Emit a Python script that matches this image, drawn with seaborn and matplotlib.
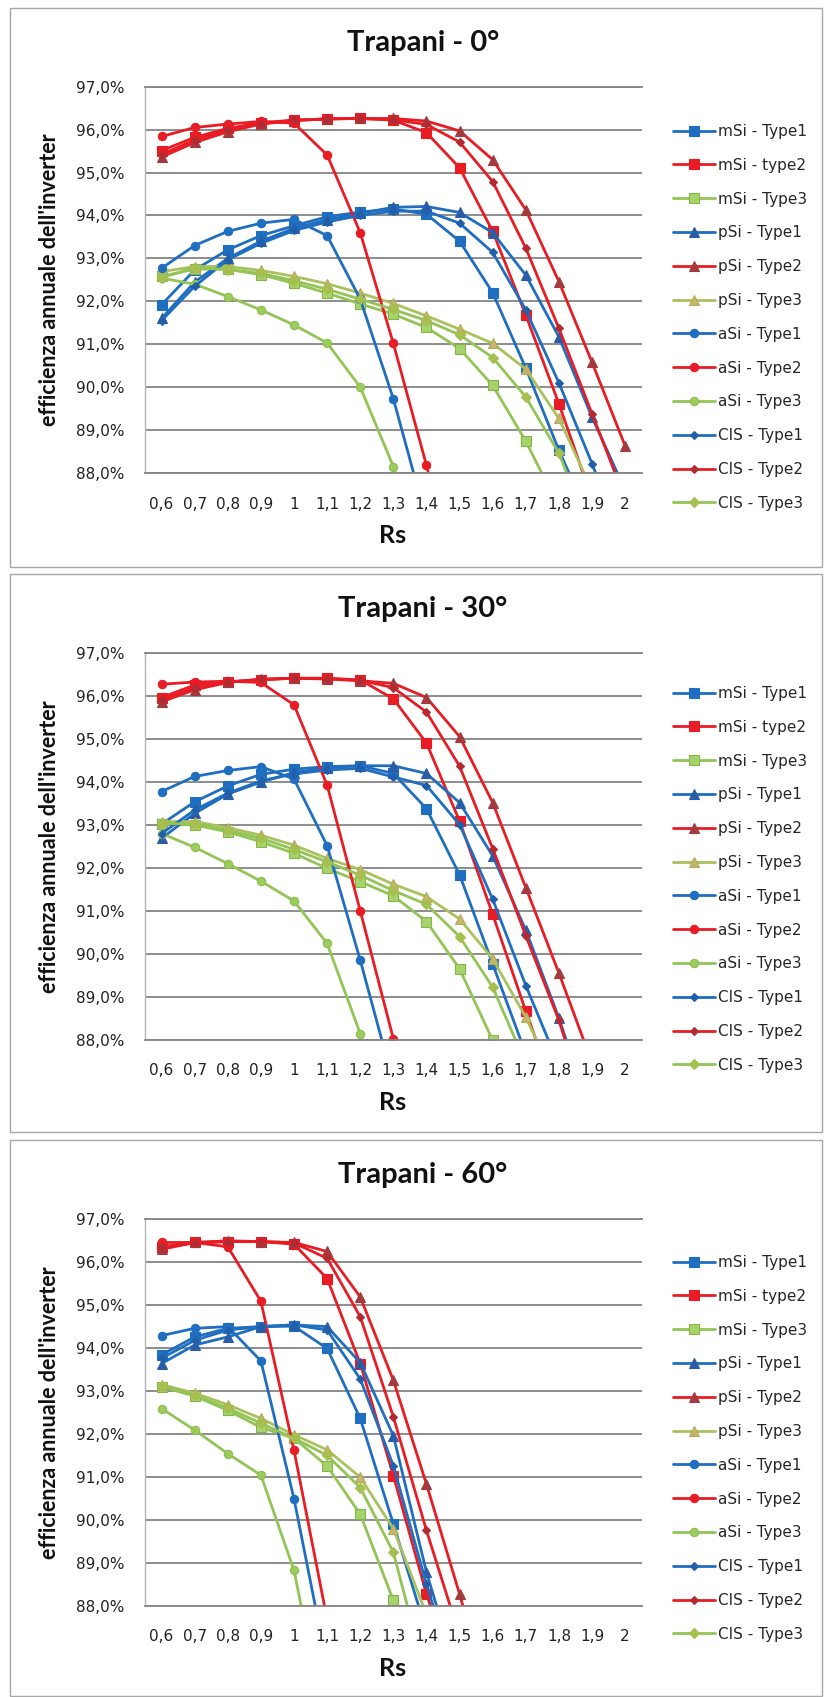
import numpy as np
import seaborn as sns
import matplotlib
matplotlib.use("Agg")
import matplotlib.pyplot as plt
from matplotlib.patches import Rectangle
from matplotlib.ticker import FuncFormatter

nan = np.nan

rs_labels = ["0,6", "0,7", "0,8", "0,9", "1", "1,1", "1,2", "1,3", "1,4", "1,5",
             "1,6", "1,7", "1,8", "1,9", "2"]
panel_titles = ["Trapani - 0°", "Trapani - 30°", "Trapani - 60°"]
series_names = ["mSi - Type1", "mSi - type2", "mSi - Type3",
                "pSi - Type1", "pSi - Type2", "pSi - Type3",
                "aSi - Type1", "aSi - Type2", "aSi - Type3",
                "CIS - Type1", "CIS - Type2", "CIS - Type3"]
y_ticks = [88, 89, 90, 91, 92, 93, 94, 95, 96, 97]

# ---- Trapani 0° ----
t0_mSi_1 = [91.92, 92.73, 93.20, 93.53, 93.76, 93.97, 94.08, 94.15, 94.03, 93.40, 92.20, 90.44, 88.53, 86.8, nan]
t0_mSi_2 = [95.51, 95.82, 96.03, 96.16, 96.22, 96.25, 96.26, 96.22, 95.93, 95.11, 93.63, 91.68, 89.61, 87.4, nan]
t0_mSi_3 = [92.58, 92.75, 92.75, 92.62, 92.42, 92.19, 91.94, 91.70, 91.39, 90.90, 90.04, 88.74, 87.2, nan, nan]
t0_pSi_1 = [91.60, 92.45, 93.00, 93.40, 93.70, 93.90, 94.05, 94.19, 94.21, 94.07, 93.60, 92.61, 91.17, 89.30, 87.6]
t0_pSi_2 = [95.36, 95.70, 95.95, 96.13, 96.21, 96.25, 96.26, 96.26, 96.20, 95.97, 95.30, 94.13, 92.46, 90.58, 88.63]
t0_pSi_3 = [92.69, 92.81, 92.81, 92.72, 92.58, 92.41, 92.19, 91.95, 91.66, 91.35, 91.02, 90.42, 89.27, 87.6, nan]
t0_aSi_1 = [92.77, 93.30, 93.63, 93.82, 93.91, 93.53, 92.05, 89.73, 86.9, nan, nan, nan, nan, nan, nan]
t0_aSi_2 = [95.84, 96.05, 96.13, 96.19, 96.15, 95.41, 93.60, 91.02, 88.18, 85.0, nan, nan, nan, nan, nan]
t0_aSi_3 = [92.54, 92.40, 92.11, 91.80, 91.45, 91.03, 90.00, 88.15, 85.5, nan, nan, nan, nan, nan, nan]
t0_CIS_1 = [91.55, 92.35, 92.97, 93.35, 93.65, 93.85, 94.00, 94.10, 94.10, 93.82, 93.14, 91.80, 90.10, 88.22, 86.2]
t0_CIS_2 = [95.42, 95.76, 96.00, 96.14, 96.22, 96.25, 96.26, 96.23, 96.12, 95.71, 94.79, 93.24, 91.37, 89.38, 87.4]
t0_CIS_3 = [92.55, 92.78, 92.74, 92.65, 92.48, 92.28, 92.05, 91.81, 91.55, 91.22, 90.69, 89.77, 88.46, 86.5, nan]

# ---- Trapani 30° ----
t30_mSi_1 = [93.02, 93.54, 93.91, 94.18, 94.30, 94.36, 94.38, 94.20, 93.38, 91.84, 89.76, 87.67, nan, nan, nan]
t30_mSi_2 = [95.97, 96.26, 96.34, 96.38, 96.42, 96.42, 96.38, 95.94, 94.91, 93.09, 90.92, 88.66, 86.5, nan, nan]
t30_mSi_3 = [93.02, 93.00, 92.84, 92.61, 92.34, 91.99, 91.68, 91.35, 90.75, 89.65, 87.98, 85.8, nan, nan, nan]
t30_pSi_1 = [92.69, 93.27, 93.72, 94.00, 94.22, 94.33, 94.38, 94.38, 94.20, 93.52, 92.28, 90.55, 88.50, 86.2, nan]
t30_pSi_2 = [95.87, 96.15, 96.32, 96.40, 96.42, 96.40, 96.36, 96.30, 95.97, 95.06, 93.52, 91.54, 89.55, 87.46, nan]
t30_pSi_3 = [93.08, 93.08, 92.94, 92.76, 92.53, 92.22, 91.96, 91.62, 91.33, 90.81, 89.88, 88.52, 86.9, nan, nan]
t30_aSi_1 = [93.78, 94.13, 94.27, 94.36, 94.07, 92.52, 89.85, 87.0, nan, nan, nan, nan, nan, nan, nan]
t30_aSi_2 = [96.28, 96.33, 96.35, 96.32, 95.80, 93.93, 91.00, 88.02, 85.0, nan, nan, nan, nan, nan, nan]
t30_aSi_3 = [92.80, 92.48, 92.10, 91.69, 91.23, 90.24, 88.14, 85.5, nan, nan, nan, nan, nan, nan, nan]
t30_CIS_1 = [92.80, 93.35, 93.74, 94.03, 94.19, 94.28, 94.32, 94.12, 93.92, 93.01, 91.27, 89.26, 87.4, nan, nan]
t30_CIS_2 = [95.92, 96.20, 96.33, 96.39, 96.42, 96.41, 96.37, 96.20, 95.63, 94.37, 92.45, 90.42, 88.45, 86.0, nan]
t30_CIS_3 = [93.04, 93.02, 92.88, 92.69, 92.43, 92.14, 91.83, 91.47, 91.15, 90.40, 89.22, 87.44, nan, nan, nan]

# ---- Trapani 60° ----
t60_mSi_1 = [93.84, 94.26, 94.46, 94.50, 94.51, 93.99, 92.36, 89.90, 87.4, nan, nan, nan, nan, nan, nan]
t60_mSi_2 = [96.36, 96.46, 96.48, 96.48, 96.42, 95.62, 93.64, 91.03, 88.27, 86.0, nan, nan, nan, nan, nan]
t60_mSi_3 = [93.10, 92.88, 92.55, 92.15, 91.90, 91.25, 90.13, 88.12, 86.0, nan, nan, nan, nan, nan, nan]
t60_pSi_1 = [93.64, 94.07, 94.26, 94.50, 94.54, 94.50, 93.66, 91.96, 88.78, 86.2, nan, nan, nan, nan, nan]
t60_pSi_2 = [96.30, 96.46, 96.50, 96.48, 96.46, 96.25, 95.19, 93.25, 90.83, 88.27, 85.5, nan, nan, nan, nan]
t60_pSi_3 = [93.15, 92.95, 92.68, 92.36, 91.98, 91.63, 90.99, 89.79, 87.8, nan, nan, nan, nan, nan, nan]
t60_aSi_1 = [94.29, 94.46, 94.50, 93.70, 90.49, 86.6, nan, nan, nan, nan, nan, nan, nan, nan, nan]
t60_aSi_2 = [96.46, 96.46, 96.36, 95.09, 91.62, 87.68, nan, nan, nan, nan, nan, nan, nan, nan, nan]
t60_aSi_3 = [92.59, 92.09, 91.54, 91.04, 88.82, 85.0, nan, nan, nan, nan, nan, nan, nan, nan, nan]
t60_CIS_1 = [93.76, 94.18, 94.42, 94.50, 94.54, 94.42, 93.28, 91.26, 88.5, 86.0, nan, nan, nan, nan, nan]
t60_CIS_2 = [96.35, 96.45, 96.48, 96.48, 96.45, 96.09, 94.73, 92.40, 89.75, 87.3, nan, nan, nan, nan, nan]
t60_CIS_3 = [93.12, 92.90, 92.60, 92.25, 91.90, 91.50, 90.75, 89.24, 86.3, nan, nan, nan, nan, nan, nan]

panels = [
    [t0_mSi_1, t0_mSi_2, t0_mSi_3, t0_pSi_1, t0_pSi_2, t0_pSi_3,
     t0_aSi_1, t0_aSi_2, t0_aSi_3, t0_CIS_1, t0_CIS_2, t0_CIS_3],
    [t30_mSi_1, t30_mSi_2, t30_mSi_3, t30_pSi_1, t30_pSi_2, t30_pSi_3,
     t30_aSi_1, t30_aSi_2, t30_aSi_3, t30_CIS_1, t30_CIS_2, t30_CIS_3],
    [t60_mSi_1, t60_mSi_2, t60_mSi_3, t60_pSi_1, t60_pSi_2, t60_pSi_3,
     t60_aSi_1, t60_aSi_2, t60_aSi_3, t60_CIS_1, t60_CIS_2, t60_CIS_3],
]

# ---- styles ----
BLUE = "#1F6EC0"
RED = "#E81C24"
GREEN = "#93C456"
styles = [
    dict(color=BLUE, marker="s", ms=6.5, mfc=BLUE, mec=BLUE),
    dict(color=RED, marker="s", ms=6.5, mfc=RED, mec=RED),
    dict(color=GREEN, marker="s", ms=6.5, mfc="#A6D46C", mec="#86B447"),
    dict(color=BLUE, marker="^", ms=6.5, mfc="#2A5DA6", mec="#2A5DA6"),
    dict(color=RED, marker="^", ms=6.5, mfc="#A23A3E", mec="#A23A3E"),
    dict(color="#A9C25E", marker="^", ms=6.5, mfc="#C4B76A", mec="#B3AA5C"),
    dict(color=BLUE, marker="o", ms=6.0, mfc=BLUE, mec=BLUE),
    dict(color=RED, marker="o", ms=6.0, mfc=RED, mec=RED),
    dict(color=GREEN, marker="o", ms=6.0, mfc="#9DCC5E", mec="#8DBE4E"),
    dict(color=BLUE, marker="D", ms=4.2, mfc="#215FAA", mec="#215FAA"),
    dict(color=RED, marker="D", ms=4.2, mfc="#B12B33", mec="#B12B33"),
    dict(color=GREEN, marker="D", ms=4.8, mfc="#A6BF4E", mec="#A6BF4E"),
]

sns.set_theme(style="white")
plt.rcParams["font.family"] = ["DejaVu Sans"]

W, H = 826, 1697
fig = plt.figure(figsize=(W / 100, H / 100), dpi=100)

ax_tops = [86.7, 653.3, 1219.3]
ax_h = 386.3
ax_left, ax_right = 145, 641.7
box_tops = [8, 574, 1140]
box_bots = [567, 1132, 1696]
legend_tops = [124, 686, 1255]

x_idx = np.arange(len(rs_labels))
pct_fmt = FuncFormatter(lambda v, _: f"{v:.1f}%".replace(".", ","))

for p, (series_list, title) in enumerate(zip(panels, panel_titles)):
    # chart border
    fig.patches.append(Rectangle((10 / W, 1 - box_bots[p] / H), (822 - 10) / W,
                                 (box_bots[p] - box_tops[p]) / H,
                                 transform=fig.transFigure, fill=False,
                                 edgecolor="#A8A8A8", lw=1.0))
    top = ax_tops[p]
    ax = fig.add_axes([ax_left / W, 1 - (top + ax_h) / H, (ax_right - ax_left) / W, ax_h / H])
    for vals, name, st in zip(series_list, series_names, styles):
        sns.lineplot(x=x_idx, y=np.array(vals, dtype=float), ax=ax, color=st["color"],
                     lw=2.0, marker=st["marker"], markersize=st["ms"],
                     markerfacecolor=st["mfc"], markeredgecolor=st["mec"],
                     markeredgewidth=0.8, label=name, sort=False)
    ax.set_xlim(-0.5, len(rs_labels) - 0.5)
    ax.set_ylim(88, 97)
    ax.set_yticks(y_ticks)
    ax.yaxis.set_major_formatter(pct_fmt)
    ax.set_xticks(x_idx)
    ax.set_xticklabels(rs_labels)
    ax.tick_params(axis="both", length=0, labelsize=11, colors="#222222")
    ax.tick_params(axis="x", pad=17)
    ax.tick_params(axis="y", pad=15)
    ax.yaxis.grid(True, color="#858585", lw=1.3)
    ax.xaxis.grid(False)
    ax.set_axisbelow(True)
    ax.spines["right"].set_visible(False)
    ax.spines["top"].set_color("#858585")
    ax.spines["top"].set_linewidth(1.3)
    ax.spines["bottom"].set_color("#858585")
    ax.spines["bottom"].set_linewidth(1.3)
    ax.spines["left"].set_color("#B5B5B5")
    ax.spines["left"].set_linewidth(1.0)
    ax.set_xlabel("")
    ax.set_ylabel("")

    fig.text(423 / W, 1 - (top - 44) / H, title, ha="center", va="center",
             fontsize=21, fontweight="bold", family=["Lato", "DejaVu Sans"], color="#111111")
    fig.text(393 / W, 1 - (top + 449) / H, "Rs", ha="center", va="center",
             fontsize=18, fontweight="bold", family=["Lato", "DejaVu Sans"], color="#111111")
    fig.text(50 / W, 1 - (top + 193) / H, "efficienza annuale dell'inverter", ha="center",
             va="center", rotation=90, fontsize=15.5, fontweight="bold",
             family=["Lato", "DejaVu Sans"], color="#111111")

    handles, labels = ax.get_legend_handles_labels()
    ax.legend(handles, labels, loc="upper left",
              bbox_to_anchor=(673 / W, 1 - legend_tops[p] / H),
              bbox_transform=fig.transFigure, frameon=False, borderpad=0,
              borderaxespad=0, handlelength=2.75, handletextpad=0.2,
              labelspacing=1.23, prop={"size": 11, "family": "DejaVu Sans"})

fig.savefig("out.png", dpi=100, facecolor="white")
